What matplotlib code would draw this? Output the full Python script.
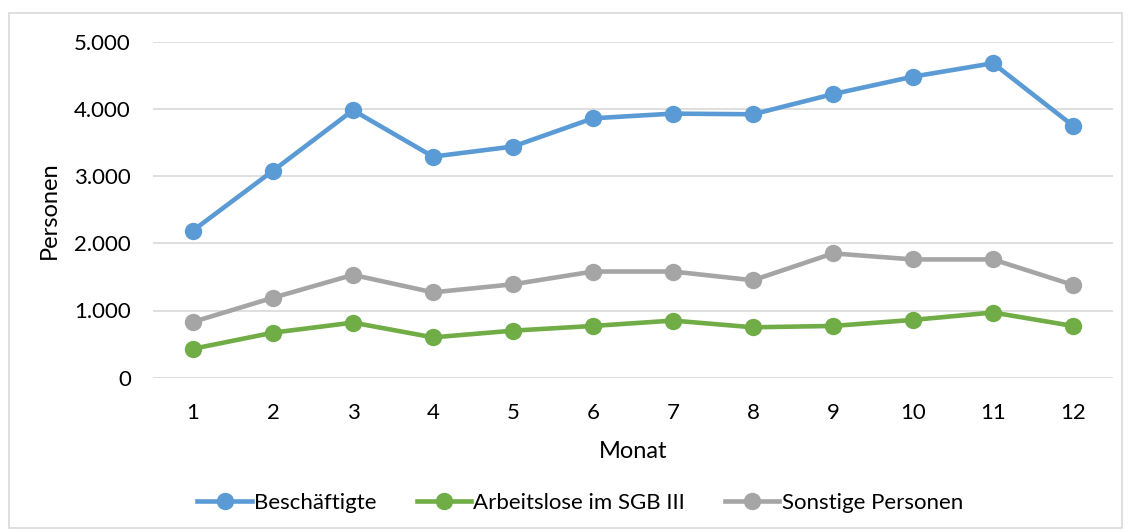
import matplotlib
matplotlib.use('Agg')
import matplotlib.pyplot as plt
from matplotlib.patches import Rectangle
from matplotlib.ticker import FuncFormatter

# Daten
monate = list(range(1, 13))
beschaeftigte = [2190, 3080, 3980, 3290, 3440, 3860, 3930, 3920, 4220, 4480, 4680, 3750]
arbeitslose = [430, 670, 820, 600, 700, 770, 850, 750, 770, 860, 970, 770]
sonstige = [830, 1190, 1530, 1270, 1390, 1580, 1580, 1450, 1850, 1760, 1760, 1380]
y_ticks = [0, 1000, 2000, 3000, 4000, 5000]

plt.rcParams['font.family'] = ['Lato', 'DejaVu Sans']

fig = plt.figure(figsize=(11.31, 5.32), dpi=100)
fig.patches.append(Rectangle((9 / 1131, 4 / 532), 1113 / 1131, 515 / 532,
                             transform=fig.transFigure, fill=False,
                             edgecolor='#D9D9D9', linewidth=1.2))
ax = fig.add_axes([153 / 1131, 1 - 377.7 / 532, 960 / 1131, 336 / 532])

series = [
    ('Beschäftigte', beschaeftigte, '#5B9BD5'),
    ('Arbeitslose im SGB III', arbeitslose, '#70AD47'),
    ('Sonstige Personen', sonstige, '#A5A5A5'),
]
for name, values, color in series:
    ax.plot(monate, values, '-o', color=color, linewidth=3.3,
            markersize=11.5, label=name, zorder=3)

ax.set_xlim(0.5, 12.5)
ax.set_ylim(0, 5000)
ax.set_xticks(monate)
ax.set_yticks(y_ticks)
ax.yaxis.set_major_formatter(FuncFormatter(lambda v, p: f'{int(v):,}'.replace(',', '.')))
ax.grid(axis='y', color='#D9D9D9', linewidth=1.2)
ax.set_axisbelow(True)
for s in ax.spines.values():
    s.set_visible(False)
ax.tick_params(axis='both', length=0, labelsize=16, colors='#000000')
ax.tick_params(axis='x', pad=18)
ax.tick_params(axis='y', pad=16)

ax.set_xlabel('Monat', fontsize=17, labelpad=13)
ax.set_ylabel('Personen', fontsize=17, labelpad=10)

ax.legend(loc='center', bbox_to_anchor=(0.445, -0.372), ncol=3, frameon=False,
          fontsize=16, handlelength=2.45, columnspacing=1.8, handletextpad=0.1)

plt.savefig('out.png', dpi=100)
plt.close()
